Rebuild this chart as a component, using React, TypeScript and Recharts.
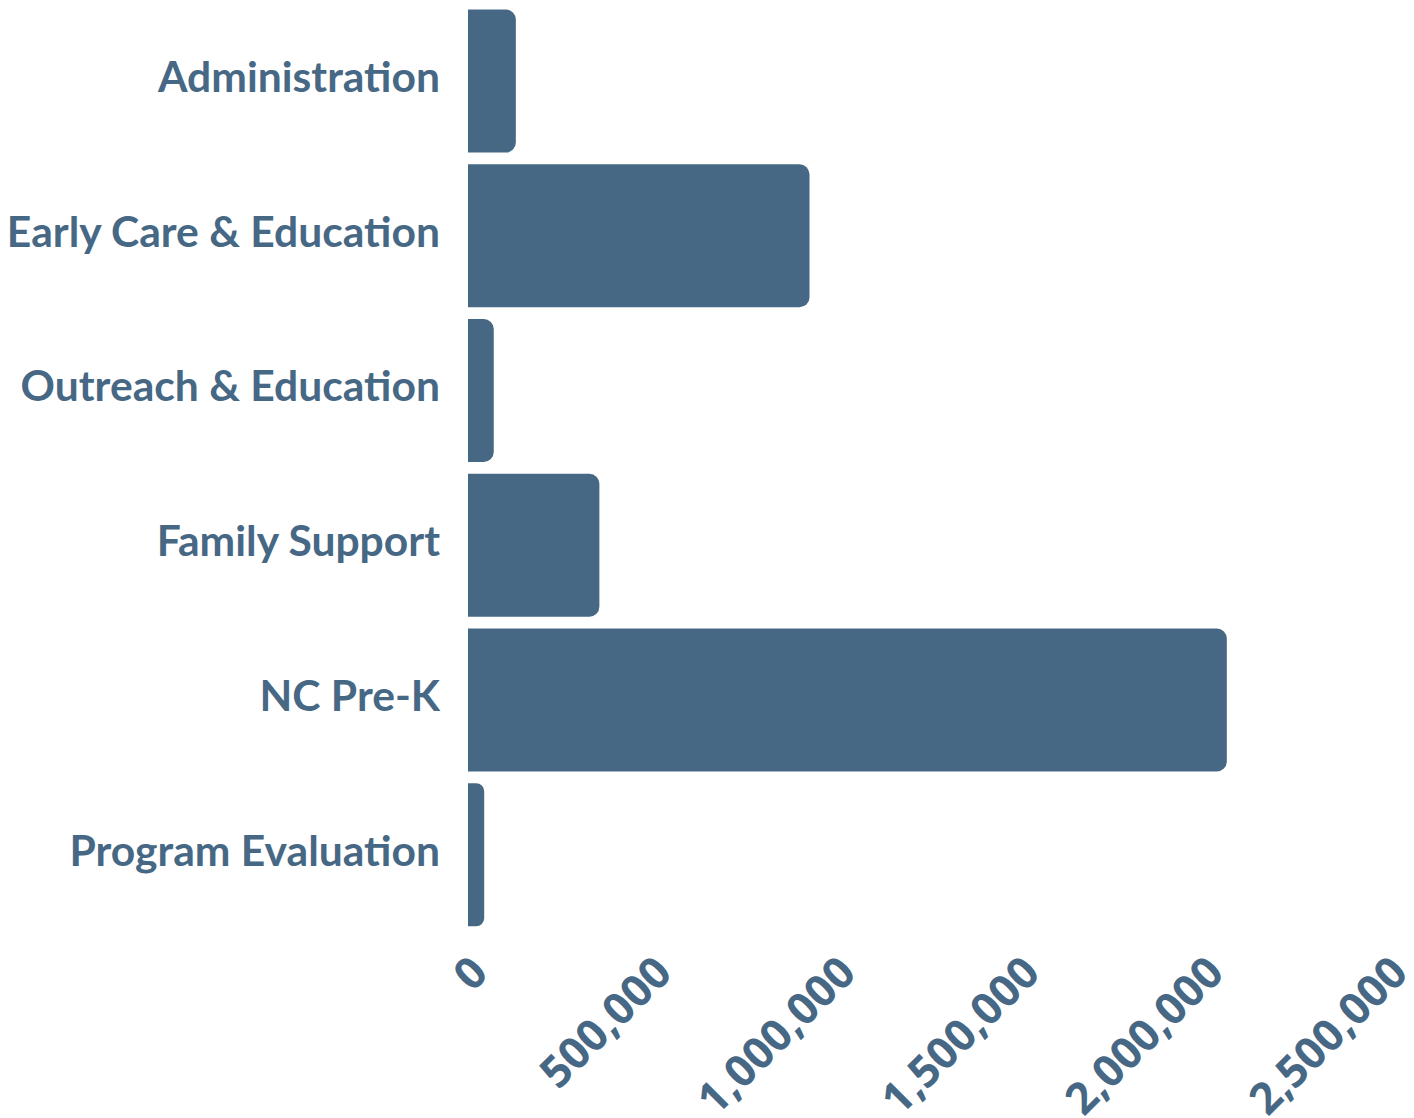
import React from "react";
import { BarChart, Bar, XAxis, YAxis } from "recharts";

const categories = [
  "Administration",
  "Early Care & Education",
  "Outreach & Education",
  "Family Support",
  "NC Pre-K",
  "Program Evaluation",
];
const amounts = [130000, 928000, 70000, 357000, 2062000, 44000];
const xTicks = [0, 500000, 1000000, 1500000, 2000000, 2500000];

const data = categories.map((name, i) => ({ name, value: amounts[i] }));

const COLOR = "#466885";

const YTick = (props: any) => {
  const { x, y, payload } = props;
  return (
    <text
      x={x}
      y={y}
      dy={11}
      textAnchor="end"
      fill={COLOR}
      fontFamily="Lato"
      fontWeight={700}
      fontSize={42.6}
    >
      {payload.value}
    </text>
  );
};

const XTick = (props: any) => {
  const { x, y, payload } = props;
  return (
    <g transform={`translate(${x},${y})`}>
      <text
        x={0}
        y={0}
        dy="0.71em"
        transform="rotate(-45)"
        textAnchor="end"
        fill={COLOR}
        fontFamily="Open Sans"
        fontWeight={700}
        fontSize={44}
      >
        {Number(payload.value).toLocaleString("en-US")}
      </text>
    </g>
  );
};

export default function App() {
  return (
    <div style={{ position: "absolute", left: 0, top: 0, background: "#fff" }}>
      <BarChart
        width={1414}
        height={1118}
        data={data}
        layout="vertical"
        margin={{ top: 3.5, right: 26, bottom: 6, left: 0 }}
      >
        <XAxis
          type="number"
          domain={[0, 2500000]}
          ticks={xTicks}
          axisLine={false}
          tickLine={false}
          tickSize={6}
          tickMargin={15}
          height={180}
          interval={0}
          tick={<XTick />}
        />
        <YAxis
          type="category"
          dataKey="name"
          width={468}
          axisLine={false}
          tickLine={false}
          tickSize={0}
          tickMargin={28}
          interval={0}
          tick={<YTick />}
        />
        <Bar
          dataKey="value"
          fill={COLOR}
          barSize={143}
          radius={[0, 10, 10, 0]}
          isAnimationActive={false}
        />
      </BarChart>
    </div>
  );
}
